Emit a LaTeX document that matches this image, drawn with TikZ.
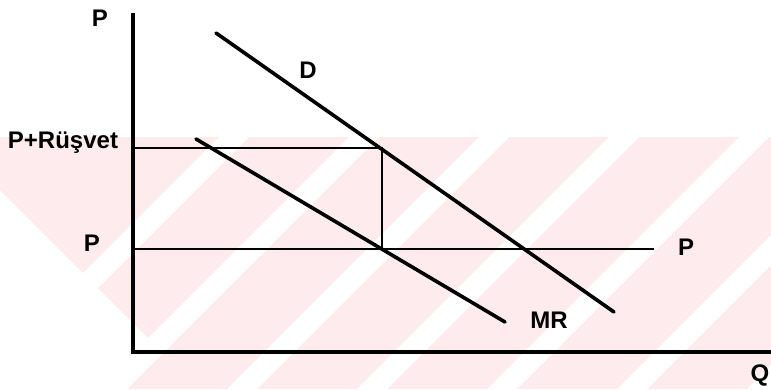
\documentclass[tikz,border=0pt]{standalone}
\usepackage{fontspec}
\setmainfont{Liberation Sans}
\definecolor{wmpink}{RGB}{253,235,238}
\begin{document}
\begin{tikzpicture}[x=1pt,y=-1pt,
  axis/.style={line width=3.4pt},
  curve/.style={line width=3.6pt},
  guide/.style={line width=2.9pt},
  pline/.style={line width=2.6pt},
  lbl/.style={font=\fontsize{24}{26}\selectfont\bfseries, inner sep=0pt}]
\useasboundingbox (0,0) rectangle (771,389);
% watermark background
\begin{scope}
  \clip (0,137) rectangle (771,389);
  \fill[wmpink] (0,137) rectangle (771,389);
  \foreach \c in {356,486,616,746,876,1006,1136}{
    \fill[white] (\c-137,137) -- (\c+30-137,137) -- (\c+30-389,389) -- (\c-389,389) -- cycle;
  }
  \fill[white] (0,190) -- (155,345) -- (111,389) -- (0,389) -- cycle;
\end{scope}
% axes
\coordinate (O) at (133,352);
\coordinate (Ytop) at (133,13);
\coordinate (Xend) at (771,352);
\draw[axis] (Ytop) -- (O) -- (Xend);
% demand and MR
\coordinate (D1) at (216,33);
\coordinate (D2) at (614,312);
\coordinate (M1) at (196,139);
\coordinate (M2) at (505,322);
\draw[curve, line cap=round] (D1) -- (D2);
\draw[curve, line cap=round] (M1) -- (M2);
% price lines
\coordinate (PRa) at (133,148);
\coordinate (PRb) at (382,148);
\coordinate (Pb) at (382,249);
\coordinate (Pa) at (133,249);
\coordinate (Pe) at (654,249);
\draw[guide] (PRa) -- (PRb) -- (Pb);
\draw[pline] (Pa) -- (Pe);
% labels
\node[lbl] (lP) at (100,18) {P};
\node[lbl] (lD) at (308,70) {D};
\node[lbl] (lPR) at (63,143) {P+Rüşvet};
\node[lbl] (lPl) at (92,243) {P};
\node[lbl] (lPr) at (686,247) {P};
\node[lbl] (lMR) at (549,320) {MR};
\node[lbl] (lQ) at (760,375) {Q};
\end{tikzpicture}
\end{document}
